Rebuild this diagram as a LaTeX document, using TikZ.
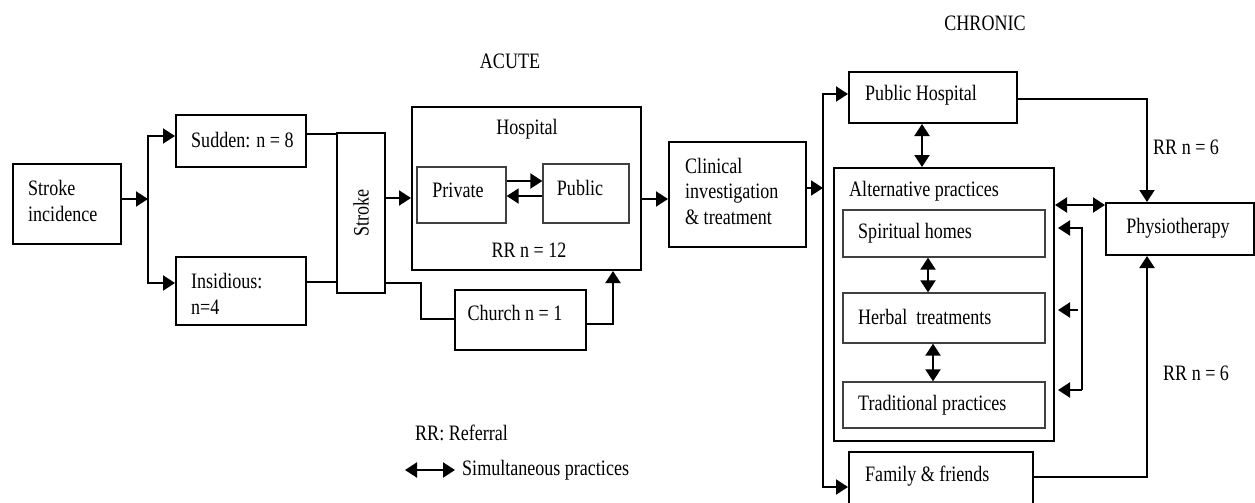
\documentclass[tikz,border=0pt]{standalone}
\usepackage{fontspec}
\setmainfont{Liberation Serif}[FakeStretch=0.82]
\usetikzlibrary{arrows.meta}
\tikzset{
  box/.style={draw, line width=2pt, rectangle, inner sep=0pt},
  ibox/.style={draw=black!75, line width=1.3pt, rectangle, inner sep=0pt},
  txt/.style={inner sep=0pt, align=left},
  ln/.style={line width=2pt},
  arr/.style={line width=2pt, -{Triangle[length=12pt,width=15pt]}},
  darr/.style={line width=2pt, {Triangle[length=12pt,width=15pt]}-{Triangle[length=12pt,width=15pt]}},
}
\newcommand{\bx}[6]{% style, name, x1,y1,x2,y2
  \node[#1, minimum width={#5-#3}, minimum height={#6-#4}] (#2) at ({(#3+#5)/2},{(#4+#6)/2}) {};}
\begin{document}
\begin{tikzpicture}[x=1pt, y=-1pt, font=\fontsize{22}{25.5}\selectfont]
\useasboundingbox (0,0) rectangle (1255,503);
% boxes
\bx{box}{inc}{13}{164}{121}{244}
\bx{box}{sud}{176}{115}{306}{167}
\bx{box}{ins}{176}{257}{306}{325}
\bx{box}{strk}{337}{133}{385}{293}
\bx{box}{hosp}{412}{107}{641}{270}
\bx{ibox}{priv}{417}{167}{506}{223}
\bx{ibox}{pub}{543}{164}{629}{223}
\bx{box}{church}{455}{290}{586}{350}
\bx{box}{clin}{669}{142}{806}{247}
\bx{box}{ph}{849}{72}{1017}{123}
\bx{box}{alt}{834}{168}{1054}{441}
\bx{ibox}{sp}{843}{210}{1045}{257}
\bx{ibox}{hb}{843}{293}{1045}{343}
\bx{ibox}{tr}{843}{382}{1045}{428}
\bx{box}{phys}{1106}{203}{1254}{255}
\bx{box}{fam}{849}{452}{1033}{512}
% texts
\node[txt, anchor=west] (inc-t) at (28,201) {Stroke\\incidence};
\node[txt, anchor=west] (sud-t) at (191,140) {Sudden: n = 8};
\node[txt, anchor=west] (ins-t) at (191,294) {Insidious:\\n=4};
\node[txt, rotate=90] (strk-t) at (361,213) {Stroke};
\node[txt] (hosp-t) at (527,129) {Hospital};
\node[txt] (hosp-rr) at (529,250) {RR n = 12};
\node[txt] (priv-t) at (458,190) {Private};
\node[txt] (pub-t) at (580,188) {Public};
\node[txt] (church-t) at (515,313) {Church n = 1};
\node[txt, anchor=west] (clin-t) at (685,191) {Clinical\\investigation\\\& treatment};
\node[txt, anchor=west] (ph-t) at (865,95) {Public Hospital};
\node[txt, anchor=west] (alt-t) at (849,191) {Alternative practices};
\node[txt, anchor=west] (sp-t) at (858,233) {Spiritual homes};
\node[txt, anchor=west] (hb-t) at (858,317) {Herbal~ treatments};
\node[txt, anchor=west] (tr-t) at (858,405) {Traditional practices};
\node[txt] (phys-t) at (1178,228) {Physiotherapy};
\node[txt, anchor=west] (fam-t) at (865,476) {Family \& friends};
\node[txt, anchor=west] (rr1) at (1153,147) {RR n = 6};
\node[txt, anchor=west] (rr2) at (1163,373) {RR n = 6};
\node[txt] (chronic) at (985,23) {CHRONIC};
\node[txt] (acute) at (510,61) {ACUTE};
\node[txt, anchor=west] (leg1) at (415,433) {RR: Referral};
\node[txt, anchor=west] (leg2) at (462,470) {Simultaneous practices};
\coordinate (lga) at (405,470);
\coordinate (lgb) at (455,470);
% connectors
\coordinate (j1) at (148,199);
\draw[arr] (inc.east |- j1) -- (j1);
\draw[arr] (j1) |- (sud.west |- 0,136);
\draw[arr] (j1) |- (ins.west |- 0,283);
\draw[ln] (sud.east |- 0,134) -- (strk.west |- 0,134);
\draw[ln] (ins.east |- 0,282) -- (strk.west |- 0,282);
\draw[arr] (strk.east |- 0,198) -- (hosp.west |- 0,198);
\draw[ln] (strk.east |- 0,283) -| (421,319) -- (church.west |- 0,319);
\draw[arr] (church.east |- 0,324) -| (hosp.south -| 613,0);
\draw[arr] (priv.east |- 0,181) -- (pub.west |- 0,181);
\draw[arr] (pub.west |- 0,196) -- (priv.east |- 0,196);
\draw[arr] (hosp.east |- 0,199) -- (clin.west |- 0,199);
\coordinate (j2) at (823,188);
\draw[arr] (clin.east |- j2) -- (j2);
\draw[arr] (j2) |- (ph.west |- 0,94);
\draw[arr] (j2) |- (fam.west |- 0,487);
\draw[darr] (ph.south -| 922,0) -- (alt.north -| 922,0);
\draw[arr] (ph.east |- 0,99) -| (phys.north -| 1147,0);
\draw[darr] (alt.east |- 0,205) -- (phys.west |- 0,205);
\draw[darr] (sp.south -| 928,0) -- (hb.north -| 928,0);
\draw[darr] (hb.south -| 933,0) -- (tr.north -| 933,0);
\coordinate (k1) at (1082,228);
\coordinate (k2) at (1082,390);
\draw[arr, shorten >=3pt] (k2) -- (k1) -- (alt.east |- k1);
\draw[arr, shorten >=3pt] (k2) -- (alt.east |- k2);
\draw[arr, shorten >=3pt] (1078,310) -- (alt.east |- 0,310);
\draw[arr] (fam.east |- 0,477) -| (phys.south -| 1147,0);
\draw[darr] (lga) -- (lgb);
\end{tikzpicture}
\end{document}
